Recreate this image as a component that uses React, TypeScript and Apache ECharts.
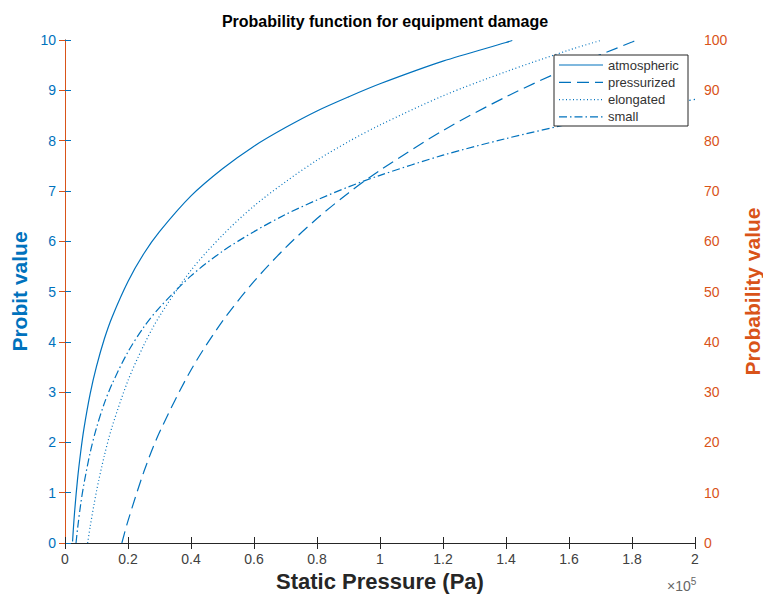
import React, { useEffect, useRef } from "react";
import * as echarts from "echarts";

// Pressure (Pa) and probit values
const atmosphericP = [2400, 3000, 4000, 5000, 6000, 8000, 10000, 12500, 15000, 20000, 25000, 30000, 40000, 50000, 60000, 70000, 80000, 90000, 100000, 120000, 140000, 142000];
const atmosphericY = [0.03, 0.58, 1.28, 1.82, 2.27, 2.97, 3.51, 4.06, 4.5, 5.2, 5.75, 6.19, 6.9, 7.44, 7.89, 8.26, 8.59, 8.87, 9.13, 9.58, 9.95, 9.99];

const pressurizedP = [18050, 20000, 25000, 30000, 40000, 50000, 60000, 70000, 80000, 90000, 100000, 120000, 140000, 160000, 180000, 181000];
const pressurizedY = [0, 0.44, 1.41, 2.2, 3.44, 4.41, 5.2, 5.87, 6.45, 6.96, 7.41, 8.2, 8.87, 9.45, 9.96, 9.99];

const elongatedP = [7200, 8000, 10000, 12500, 15000, 20000, 25000, 30000, 40000, 50000, 60000, 70000, 80000, 90000, 100000, 120000, 140000, 160000, 170000];
const elongatedY = [0, 0.33, 1.03, 1.74, 2.32, 3.23, 3.93, 4.51, 5.42, 6.12, 6.7, 7.18, 7.61, 7.98, 8.31, 8.89, 9.37, 9.8, 9.99];

const smallP = [3500, 4000, 5000, 6000, 8000, 10000, 12500, 15000, 20000, 25000, 30000, 40000, 50000, 60000, 70000, 80000, 90000, 100000, 120000, 140000, 160000, 180000, 200000];
const smallY = [0, 0.29, 0.78, 1.17, 1.8, 2.29, 2.78, 3.17, 3.8, 4.29, 4.68, 5.31, 5.8, 6.19, 6.53, 6.82, 7.08, 7.31, 7.71, 8.04, 8.33, 8.59, 8.82];

const seriesNames = ["atmospheric", "pressurized", "elongated", "small"];

const BLUE = "#0072BD";
const ORANGE = "#D95319";
const DARK = "#262626";
const FONT = "'Liberation Sans', Arial, Helvetica, sans-serif";

const zip = (xs: number[], ys: number[]) => xs.map((x, i) => [x, ys[i]]);

export default function App() {
  const ref = useRef<HTMLDivElement>(null);
  useEffect(() => {
    if (!ref.current) return;
    const chart = echarts.init(ref.current, undefined, { renderer: "svg" });
    const dashes: any[] = ["solid", [12, 6], [1, 2.5], [8, 3, 1.5, 3]];
    const datas = [
      zip(atmosphericP, atmosphericY),
      zip(pressurizedP, pressurizedY),
      zip(elongatedP, elongatedY),
      zip(smallP, smallY),
    ];
    const legendTop = 55;
    const legendLeft = 554;
    const legendGraphics: any[] = [
      {
        type: "rect",
        shape: { x: legendLeft, y: legendTop, width: 134, height: 71 },
        style: { fill: "#fff", stroke: DARK, lineWidth: 1 },
        z: 100,
      },
    ];
    seriesNames.forEach((n, i) => {
      const y = legendTop + 10 + i * 17.3;
      legendGraphics.push({
        type: "line",
        shape: { x1: legendLeft + 5, y1: y, x2: legendLeft + 49, y2: y },
        style: { stroke: BLUE, lineWidth: 1.2, lineDash: dashes[i] === "solid" ? null : dashes[i] },
        z: 101,
      });
      legendGraphics.push({
        type: "text",
        x: legendLeft + 54,
        y: y,
        style: { text: n, fill: "#333", font: `13px ${FONT}`, textVerticalAlign: "middle" },
        z: 101,
      });
    });

    chart.setOption({
      animation: false,
      backgroundColor: "#fff",
      title: {
        text: "Probability function for equipment damage",
        left: 380,
        textAlign: "center",
        top: 8,
        textStyle: { fontFamily: FONT, fontWeight: "bold", fontSize: 16, color: "#000" },
      },
      grid: { left: 65, right: 68, top: 40, bottom: 56, outerBoundsMode: "none", containLabel: false },
      xAxis: [
        {
          type: "value",
          min: 0,
          max: 200000,
          interval: 20000,
          name: "Static Pressure (Pa)",
          nameLocation: "middle",
          nameGap: 27,
          nameTextStyle: { fontFamily: FONT, fontWeight: "bold", fontSize: 22, color: DARK },
          axisLine: { lineStyle: { color: DARK, width: 1 } },
          axisTick: { inside: true, length: 6, lineStyle: { color: DARK } },
          axisLabel: {
            fontFamily: FONT,
            fontSize: 14,
            color: "#404040",
            margin: 9,
            formatter: (v: number) => String(Math.round((v / 1e5) * 10) / 10),
          },
          splitLine: { show: false },
        },
        {
          type: "value",
          position: "top",
          min: 0,
          max: 200000,
          interval: 20000,
          axisLine: { lineStyle: { color: DARK, width: 1 } },
          axisTick: { inside: true, length: 6, lineStyle: { color: DARK } },
          axisLabel: { show: false },
          splitLine: { show: false },
        },
      ],
      yAxis: [
        {
          type: "value",
          min: 0,
          max: 10,
          interval: 1,
          name: "Probit value",
          nameLocation: "middle",
          nameGap: 33,
          nameTextStyle: { fontFamily: FONT, fontWeight: "bold", fontSize: 21, color: BLUE },
          axisLine: { show: true, lineStyle: { color: BLUE, width: 1 } },
          axisTick: { show: true, inside: true, length: 6, lineStyle: { color: BLUE } },
          axisLabel: { fontFamily: FONT, fontSize: 14, color: BLUE, margin: 9 },
          splitLine: { show: false },
        },
        {
          type: "value",
          position: "right",
          min: 0,
          max: 100,
          interval: 10,
          name: "Probability value",
          nameLocation: "middle",
          nameGap: 47,
          nameRotate: 90,
          nameTextStyle: { fontFamily: FONT, fontWeight: "bold", fontSize: 21, color: ORANGE },
          axisLine: { show: true, lineStyle: { color: ORANGE, width: 1 } },
          axisTick: { show: true, inside: true, length: 6, lineStyle: { color: ORANGE } },
          axisLabel: { fontFamily: FONT, fontSize: 14, color: ORANGE, margin: 9 },
          splitLine: { show: false },
        },
      ],
      series: seriesNames.map((n, i) => ({
        name: n,
        type: "line",
        xAxisIndex: 0,
        yAxisIndex: 0,
        data: datas[i],
        smooth: 0.3,
        showSymbol: false,
        symbol: "none",
        clip: true,
        lineStyle: { color: BLUE, width: 1.2, type: dashes[i] },
      })),
      graphic: [
        ...legendGraphics,
        {
          type: "text",
          x: 667,
          y: 576,
          style: {
            text: "×10{s|5}",
            rich: { s: { fontSize: 10, fontFamily: FONT, fill: "#666", verticalAlign: "top", padding: [0, 0, 9, 0] } },
            fill: "#666",
            font: `14px ${FONT}`,
          },
        },
      ],
    });
    return () => chart.dispose();
  }, []);
  return <div ref={ref} style={{ position: "fixed", left: 0, top: 0, width: 763, height: 599 }} />;
}
